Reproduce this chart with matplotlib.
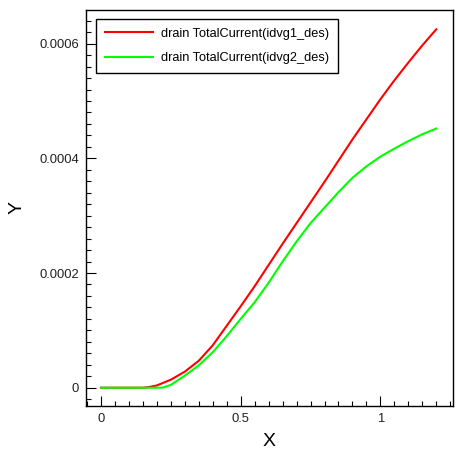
import numpy as np
import matplotlib
matplotlib.use('Agg')
import matplotlib.pyplot as plt
from matplotlib.ticker import MultipleLocator, FuncFormatter

# data (x in V, y in A)
x_red = [0, 0.05, 0.1, 0.15, 0.17, 0.2, 0.25, 0.3, 0.35, 0.4, 0.45, 0.5, 0.55, 0.6,
         0.65, 0.7, 0.75, 0.8, 0.85, 0.9, 0.95, 1.0, 1.05, 1.1, 1.15, 1.2]
y_red = [0, 0, 0, 0, 0.01, 0.04, 0.14, 0.28, 0.47, 0.74, 1.08, 1.42, 1.77, 2.14,
         2.51, 2.87, 3.23, 3.59, 3.96, 4.33, 4.68, 5.03, 5.36, 5.67, 5.97, 6.25]
x_green = [0, 0.05, 0.1, 0.15, 0.2, 0.22, 0.25, 0.3, 0.35, 0.4, 0.45, 0.5, 0.55, 0.6,
           0.65, 0.7, 0.75, 0.8, 0.85, 0.9, 0.95, 1.0, 1.05, 1.1, 1.15, 1.2]
y_green = [0, 0, 0, 0, 0, 0, 0.05, 0.21, 0.39, 0.62, 0.90, 1.20, 1.49, 1.83,
           2.20, 2.55, 2.87, 3.14, 3.41, 3.66, 3.86, 4.03, 4.17, 4.30, 4.42, 4.52]
y_red = np.array(y_red) * 1e-4
y_green = np.array(y_green) * 1e-4

labels = ['drain TotalCurrent(idvg1_des)', 'drain TotalCurrent(idvg2_des)']

plt.rcParams['font.family'] = ['Liberation Sans', 'DejaVu Sans']

fig = plt.figure(figsize=(4.65, 4.57), dpi=100)
ax = fig.add_axes([0.185, 0.1116, 0.789, 0.8676])

ax.plot(x_red, y_red, color='#ff0000', linewidth=1.5, label=labels[0])
ax.plot(x_green, y_green, color='#00ff00', linewidth=1.5, label=labels[1])

ax.set_xlim(-0.0536, 1.2596)
ax.set_ylim(-0.0000319, 0.0006596)

ax.xaxis.set_major_locator(MultipleLocator(0.5))
ax.xaxis.set_minor_locator(MultipleLocator(0.05))
ax.yaxis.set_major_locator(MultipleLocator(0.0002))
ax.yaxis.set_minor_locator(MultipleLocator(0.00002))
fmt = FuncFormatter(lambda v, p: '0' if abs(v) < 1e-12 else '%g' % v)
ax.xaxis.set_major_formatter(fmt)
ax.yaxis.set_major_formatter(fmt)

ax.tick_params(which='both', direction='in', top=False, right=False,
               labelsize=9.4, labelcolor='#222222', width=0.8)
ax.tick_params(which='major', length=7.2, pad=5)
ax.tick_params(which='minor', length=3.4)
for s in ax.spines.values():
    s.set_linewidth(1.0)

ax.set_xlabel('X', fontsize=14, labelpad=6)
ax.set_ylabel('Y', fontsize=14, labelpad=10)

leg = ax.legend(loc='upper left', bbox_to_anchor=(0.0272, 0.976), borderaxespad=0,
                fontsize=9.2, handlelength=3.75, handletextpad=0.62, labelspacing=0.95,
                borderpad=0.7, fancybox=False, framealpha=1, edgecolor='black')
leg.get_frame().set_linewidth(1.0)

plt.savefig('out.png', dpi=100)
